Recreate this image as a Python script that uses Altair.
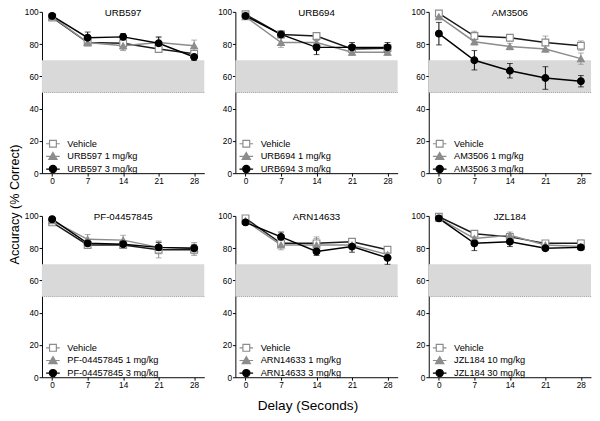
import altair as alt
import pandas as pd

FONT = "Liberation Sans"
DELAYS = [0, 7, 14, 21, 28]
Y_TICKS = [0, 20, 40, 60, 80, 100]

PANELS = ["URB597", "URB694", "AM3506", "PF-04457845", "ARN14633", "JZL184"]
LABELS = [
    ["Vehicle", "URB597  1 mg/kg", "URB597  3 mg/kg"],
    ["Vehicle", "URB694 1 mg/kg", "URB694 3 mg/kg"],
    ["Vehicle", "AM3506 1 mg/kg", "AM3506 3 mg/kg"],
    ["Vehicle", "PF-04457845  1 mg/kg", "PF-04457845  3 mg/kg"],
    ["Vehicle", "ARN14633  1 mg/kg", "ARN14633  3 mg/kg"],
    ["Vehicle", "JZL184 10 mg/kg", "JZL184 30 mg/kg"],
]

# means per panel: [vehicle, low dose, high dose]
MEANS = [
    [[96.5, 81, 80.5, 77, 74], [97, 81, 79, 81, 79], [97.5, 84, 84.5, 80.5, 72]],
    [[98.5, 86, 85, 77, 77.5], [97, 81, 81, 75, 75], [97.5, 86, 78, 78, 78]],
    [[99, 85, 84, 81, 79], [97, 81.5, 78.5, 77, 71], [86.5, 70, 63.5, 59, 57]],
    [[96, 82, 82, 79, 79], [97, 85.5, 85, 80.5, 80], [98, 83, 82.5, 80.5, 80]],
    [[98.5, 83, 83, 84, 79], [97, 82, 82, 82, 76], [96, 87, 78, 81, 74]],
    [[99.5, 89, 87, 83, 83], [98.5, 86, 88, 82, 81], [98.5, 83, 84, 80, 80.5]],
]
ERRS = [
    [[1.5, 1.5, 4, 2, 2], [1, 2, 3, 3, 3.5], [1.5, 3.5, 2, 4, 2]],
    [[1.5, 2, 1.5, 2, 2], [1, 3, 3, 2, 2], [1, 2, 4.5, 3, 3]],
    [[1, 3, 2, 4, 3], [1, 2, 2, 2, 3.5], [7, 6, 4.5, 7, 3.5]],
    [[1.5, 2, 2, 5, 3.5], [1, 3, 3, 4, 3.5], [1, 2, 2, 3, 2]],
    [[1, 2, 4, 2, 1.5], [1, 3, 4, 3, 2], [1, 3, 2.5, 3.5, 4]],
    [[1, 1.5, 2, 1.5, 2], [1, 2, 2, 2, 2], [1, 4.5, 3, 1.5, 1.5]],
]

BAND_LOW = 50
BAND_HIGH = 70
X_DOMAIN = [-2, 30]
TITLE_X = 14     # panel name sits at the middle of the x range
TITLE_Y = 100    # and at the top of the y range

GRAY = "#8c8c8c"
LINE_COLORS = ["#1a1a1a", GRAY, "#000000"]
ERR_COLORS = [GRAY, GRAY, "#000000"]
FILL_COLORS = ["#ffffff", GRAY, "#000000"]
STROKE_COLORS = [GRAY, GRAY, "#000000"]
SHAPES = ["square", "triangle-up", "circle"]
LEGEND_PATHS = [
    "M-2,0H-1M1,0H2M-1,-1H1V1H-1Z",
    "M-2,0H2M0,-1.15L1.22,0.92H-1.22Z",
    "M-2,0H2M1.07,0A1.07,1.07,0,1,1,-1.07,0A1.07,1.07,0,1,1,1.07,0Z",
]


def make_panel(i):
    name = PANELS[i]
    labels = LABELS[i]
    rows = []
    for lab, m, e in zip(labels, MEANS[i], ERRS[i]):
        for d, mv, ev in zip(DELAYS, m, e):
            rows.append(dict(delay=d, acc=mv, lo=mv - ev, hi=min(mv + ev, 100), series=lab))
    df = pd.DataFrame(rows)
    band = pd.DataFrame({"x0": [X_DOMAIN[0]], "x1": [X_DOMAIN[1]],
                         "b0": [BAND_LOW], "b1": [BAND_HIGH]})
    ttl = pd.DataFrame({"name": [name], "tx": [TITLE_X], "ty": [TITLE_Y]})

    xs = alt.Scale(domain=X_DOMAIN, nice=False, zero=False)
    ys = alt.Scale(domain=[0, 100], nice=False, zero=False)
    xax = alt.Axis(values=DELAYS, title=None, grid=False, labelOverlap=False)
    yax = alt.Axis(values=Y_TICKS, title=None, grid=False, labelOverlap=False)

    def X(f):
        return alt.X(f, scale=xs, axis=xax, title=None)

    def Y(f):
        return alt.Y(f, scale=ys, axis=yax, title=None)

    def sc(rng):
        return alt.Scale(domain=labels, range=rng)

    rect = alt.Chart(band).mark_rect(color="#d9d9d9").encode(
        x=X("x0:Q"), x2="x1:Q", y=Y("b0:Q"), y2="b1:Q")
    rule = alt.Chart(band).mark_rule(color="#9a9a9a", strokeDash=[1, 1], strokeWidth=1).encode(
        x=X("x0:Q"), x2="x1:Q", y=Y("b0:Q"))
    title = alt.Chart(ttl).mark_text(font=FONT, fontSize=10, color="#000",
                                     baseline="middle", align="center", dy=1).encode(
        x=X("tx:Q"), y=Y("ty:Q"), text="name:N")

    base = alt.Chart(df)
    line = base.mark_line(strokeWidth=1.5).encode(
        x=X("delay:Q"), y=Y("acc:Q"),
        color=alt.Color("series:N", scale=sc(LINE_COLORS), legend=None))
    err = base.mark_errorbar(ticks={"size": 6, "thickness": 1}, thickness=1).encode(
        x=X("delay:Q"), y=Y("lo:Q"), y2="hi:Q",
        color=alt.Color("series:N", scale=sc(ERR_COLORS), legend=None))
    pts = base.mark_point(filled=True, size=48, strokeWidth=1.2, opacity=1).encode(
        x=X("delay:Q"), y=Y("acc:Q"),
        shape=alt.Shape("series:N", scale=sc(SHAPES), legend=None),
        fill=alt.Fill("series:N", scale=sc(FILL_COLORS), legend=None),
        stroke=alt.Stroke("series:N", scale=sc(STROKE_COLORS), legend=None))

    leg = alt.Legend(title=None, orient="none", legendX=6.5, legendY=131,
                     symbolSize=49, symbolStrokeWidth=1.2, symbolOpacity=1,
                     labelFont=FONT, labelFontSize=9.5, labelColor="#000",
                     labelOffset=10, rowPadding=0, padding=0)
    legend_layer = base.transform_filter("false").mark_point(
        filled=True, strokeWidth=1.2, opacity=1).encode(
        shape=alt.Shape("series:N", scale=sc(LEGEND_PATHS), legend=leg),
        fill=alt.Fill("series:N", scale=sc(FILL_COLORS), legend=leg),
        stroke=alt.Stroke("series:N", scale=sc(STROKE_COLORS), legend=leg))

    return alt.layer(rect, rule, title, line, err, pts, legend_layer).resolve_scale(
        color="independent", shape="independent", fill="independent",
        stroke="independent").properties(width=167, height=166)


panels = [make_panel(i) for i in range(6)]
ind = dict(color="independent", shape="independent", fill="independent",
           stroke="independent")
top = alt.hconcat(*panels[:3], spacing=12).resolve_scale(**ind)
bottom = alt.hconcat(*panels[3:], spacing=12).resolve_scale(**ind).properties(
    title=alt.TitleParams("Delay (Seconds)", orient="bottom", font=FONT,
                          fontSize=14, fontWeight="normal", color="#000",
                          offset=10, anchor="middle"))

chart = alt.vconcat(top, bottom, spacing=25).resolve_scale(**ind).properties(
    padding={"left": 0, "top": -7, "right": 0, "bottom": 0},
    title=alt.TitleParams("Accuracy (% Correct)", orient="left", font=FONT,
                          fontSize=13, fontWeight="normal", color="#000",
                          offset=3, anchor="middle", dx=6),
).configure_view(stroke=None).configure_axis(
    labelFont=FONT, labelFontSize=8.5, labelColor="#000", tickSize=3,
    labelPadding=1, domainColor="#000", tickColor="#000", domainWidth=1,
    tickWidth=1, labelOverlap=False)

chart.save("out.html", embed_options={"renderer": "svg", "actions": False})
